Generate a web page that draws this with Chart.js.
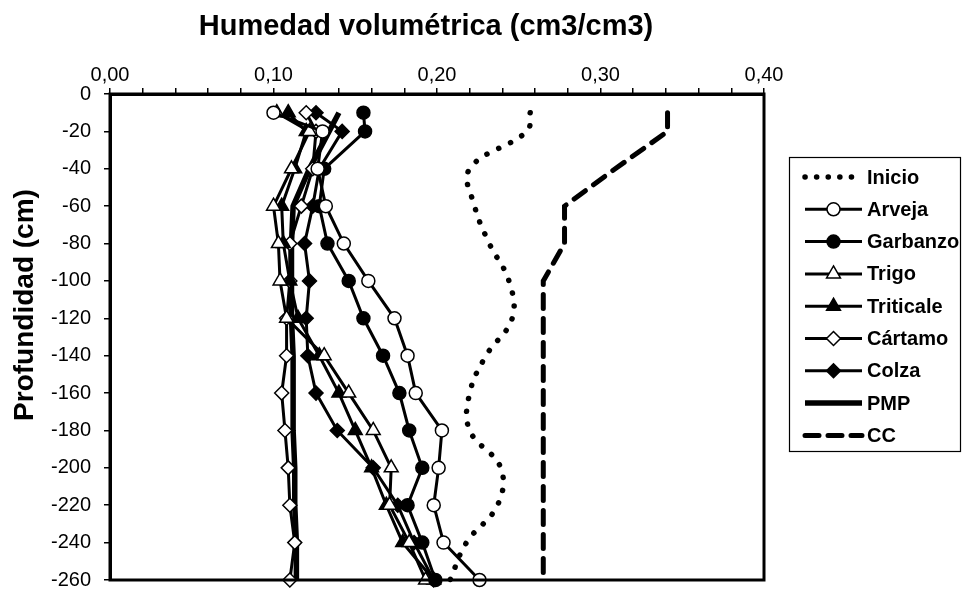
<!DOCTYPE html>
<html><head><meta charset="utf-8">
<script src="https://cdn.jsdelivr.net/npm/chart.js@4"></script>
<style>html,body{margin:0;padding:0;background:#fff}canvas{display:block}</style>
</head><body>
<canvas id="c" width="962" height="605"></canvas>
<script>
// ---- data ----
const depths   = [-10,-20,-40,-60,-80,-100,-120,-140,-160,-180,-200,-220,-240,-260];
const inicio   = [0.257,0.255,0.220,0.223,0.232,0.244,0.246,0.230,0.220,0.220,0.239,0.237,0.218,0.208];
const arveja   = [0.100,0.130,0.127,0.132,0.143,0.158,0.174,0.182,0.187,0.203,0.201,0.198,0.204,0.226];
const garbanzo = [0.155,0.156,0.131,0.128,0.133,0.146,0.155,0.167,0.177,0.183,0.191,0.182,0.191,0.199];
const trigo    = [0.102,0.122,0.111,0.100,0.103,0.104,0.108,0.131,0.146,0.161,0.172,0.171,0.183,0.193];
const triticale= [0.109,0.120,0.113,0.105,0.106,0.110,0.115,0.128,0.140,0.150,0.160,0.169,0.179,0.198];
const cartamo  = [0.120,0.126,0.124,0.117,0.110,0.110,0.108,0.108,0.105,0.107,0.109,0.110,0.113,0.110];
const colza    = [0.126,0.142,0.128,0.124,0.119,0.122,0.120,0.121,0.126,0.139,0.161,0.176,0.186,0.198];
const pmp      = [0.140,0.134,0.122,0.112,0.111,0.111,0.111,0.112,0.112,0.112,0.113,0.113,0.114,0.114];
const cc       = [0.341,0.341,0.309,0.278,0.278,0.265,0.265,0.265,0.265,0.265,0.265,0.265,0.265,0.265];
const seriesNames = ['Inicio','Arveja','Garbanzo','Trigo','Triticale','Cártamo','Colza','PMP','CC'];
const xTickValues = [0, 0.1, 0.2, 0.3, 0.4];
const xTitle = 'Humedad volumétrica (cm3/cm3)';
const yTitle = 'Profundidad (cm)';

const pts = arr => depths.map((d, i) => ({x: arr[i], y: d}));
const FONT = '"Liberation Sans", Arial, sans-serif';

function marked(label, arr, style, fill, radius) {
  return {
    label, data: pts(arr), showLine: true, borderColor: '#000', borderWidth: 3,
    pointStyle: style, pointRadius: radius, pointHoverRadius: radius,
    pointBackgroundColor: fill, pointBorderColor: '#000', pointBorderWidth: 1.5,
    tension: 0, clip: false
  };
}

const datasets = [
  {label: seriesNames[0], data: pts(inicio), showLine: true, borderColor: '#000', borderWidth: 5.5,
   borderDash: [0.1, 13], borderCapStyle: 'round', pointRadius: 0, tension: 0.4, clip: false},
  marked(seriesNames[1], arveja, 'circle', '#fff', 6.5),
  marked(seriesNames[2], garbanzo, 'circle', '#000', 6.5),
  marked(seriesNames[3], trigo, 'triangle', '#fff', 8),
  marked(seriesNames[4], triticale, 'triangle', '#000', 8),
  marked(seriesNames[5], cartamo, 'rectRot', '#fff', 7),
  marked(seriesNames[6], colza, 'rectRot', '#000', 7),
  {label: seriesNames[7], data: pts(pmp), showLine: true, borderColor: '#000', borderWidth: 5.5,
   pointRadius: 0, tension: 0, clip: false},
  {label: seriesNames[8], data: pts(cc), showLine: true, borderColor: '#000', borderWidth: 5,
   borderDash: [14, 10], borderCapStyle: 'round', pointRadius: 0, tension: 0, clip: false}
];

const decor = {
  id: 'decor',
  afterDraw(chart) {
    const ctx = chart.ctx, a = chart.chartArea;
    ctx.save();
    // plot frame
    ctx.strokeStyle = '#000'; ctx.lineWidth = 3;
    ctx.strokeRect(a.left, a.top, a.right - a.left, a.bottom - a.top);
    // titles
    ctx.fillStyle = '#000';
    ctx.font = 'bold 29px ' + FONT;
    ctx.textAlign = 'center'; ctx.textBaseline = 'alphabetic';
    ctx.fillText(xTitle, 426, 35);
    ctx.save();
    ctx.translate(33, 305); ctx.rotate(-Math.PI / 2);
    ctx.font = 'bold 28px ' + FONT;
    ctx.fillText(yTitle, 0, 0);
    ctx.restore();
    // legend
    const bx = 789, by = 157, bw = 171, bh = 294;
    ctx.fillStyle = '#fff'; ctx.fillRect(bx, by, bw, bh);
    ctx.lineWidth = 1.2; ctx.strokeStyle = '#000';
    ctx.strokeRect(bx + 0.5, by + 0.5, bw, bh);
    const x1 = 805, x2 = 862, xm = 833.5;
    chart.data.datasets.forEach((ds, i) => {
      const y = 177 + i * 32.3;
      ctx.save();
      ctx.strokeStyle = '#000';
      ctx.lineWidth = ds.borderWidth;
      ctx.lineCap = ds.borderCapStyle || 'butt';
      ctx.setLineDash(ds.borderDash ? (ds.label === 'CC' ? [14, 9] : [0.1, 11.5]) : []);
      ctx.beginPath(); ctx.moveTo(x1, y); ctx.lineTo(x2, y); ctx.stroke();
      ctx.setLineDash([]);
      if (ds.pointRadius > 0) {
        ctx.fillStyle = ds.pointBackgroundColor; ctx.strokeStyle = '#000';
        ctx.lineWidth = ds.pointBorderWidth;
        Chart.helpers.drawPoint(ctx, {pointStyle: ds.pointStyle, rotation: 0,
          radius: ds.pointRadius, borderWidth: ds.pointBorderWidth}, xm, y);
      }
      ctx.restore();
      ctx.fillStyle = '#000';
      ctx.font = 'bold 20px ' + FONT;
      ctx.textAlign = 'left'; ctx.textBaseline = 'middle';
      ctx.fillText(ds.label, 867, y + 1);
    });
    ctx.restore();
  }
};

new Chart(document.getElementById('c'), {
  type: 'scatter',
  data: {datasets},
  plugins: [decor],
  options: {
    responsive: false, animation: false, devicePixelRatio: 1,
    layout: {padding: {left: 0, right: 198, top: 0, bottom: 12}},
    plugins: {legend: {display: false}, tooltip: {enabled: false}},
    scales: {
      x: {
        type: 'linear', position: 'top', min: 0, max: 0.4,
        afterFit(s) { s.height = 94; },
        afterBuildTicks(s) {
          const t = [];
          for (let k = 0; k <= 20; k++) t.push({value: k * 0.02});
          s.ticks = t;
        },
        grid: {drawOnChartArea: false, color: '#000', lineWidth: 1.5, tickLength: 6},
        border: {color: '#000', width: 3},
        ticks: {
          color: '#000', font: {family: FONT, size: 20}, padding: 1, maxRotation: 0, autoSkip: false,
          callback(v) {
            const k = v * 10;
            if (Math.abs(k - Math.round(k)) > 1e-6) return '';
            return xTickValues[Math.round(k)].toFixed(2).replace('.', ',');
          }
        }
      },
      y: {
        type: 'linear', min: -260, max: 0,
        afterFit(s) { s.width = 110; },
        grid: {drawOnChartArea: false, color: '#000', lineWidth: 1.5, tickLength: 6},
        border: {color: '#000', width: 3},
        ticks: {color: '#000', font: {family: FONT, size: 20}, padding: 13, stepSize: 20,
          callback: v => String(v)}
      }
    }
  }
});
</script>
</body></html>
